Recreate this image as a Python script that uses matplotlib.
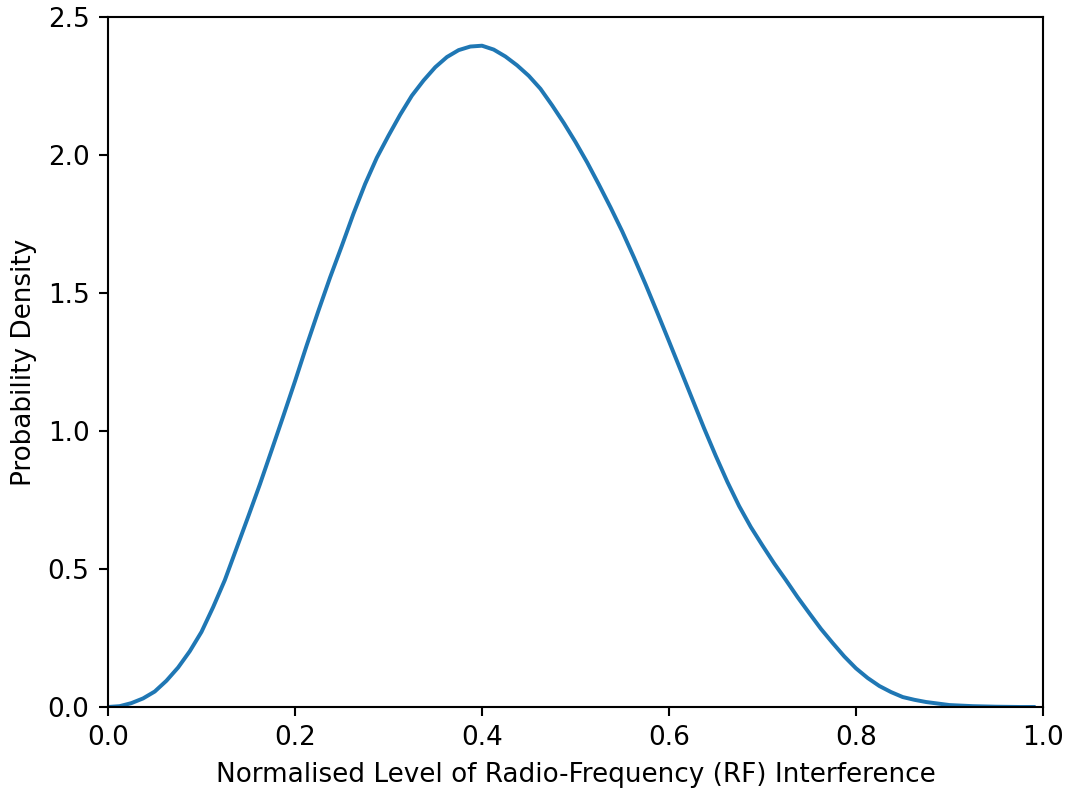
import matplotlib
matplotlib.use("Agg")
import matplotlib.pyplot as plt

# Values
rf_level = [0.000, 0.0125, 0.025, 0.0375, 0.050, 0.0625, 0.075, 0.0875, 0.100, 0.1125,
            0.125, 0.1375, 0.150, 0.1625, 0.175, 0.1875, 0.200, 0.2125, 0.225, 0.2375,
            0.250, 0.2625, 0.275, 0.2875, 0.300, 0.3125, 0.325, 0.3375, 0.350, 0.3625,
            0.375, 0.3875, 0.400, 0.4125, 0.425, 0.4375, 0.450, 0.4625, 0.475, 0.4875,
            0.500, 0.5125, 0.525, 0.5375, 0.550, 0.5625, 0.575, 0.5875, 0.600, 0.6125,
            0.625, 0.6375, 0.650, 0.6625, 0.675, 0.6875, 0.700, 0.7125, 0.725, 0.7375,
            0.750, 0.7625, 0.775, 0.7875, 0.800, 0.8125, 0.825, 0.8375, 0.850, 0.8625,
            0.875, 0.900, 0.925, 0.950, 0.975, 0.990]
density = [0.000, 0.003, 0.014, 0.031, 0.056, 0.095, 0.143, 0.202, 0.272, 0.362,
           0.460, 0.575, 0.690, 0.807, 0.930, 1.054, 1.180, 1.310, 1.435, 1.556,
           1.670, 1.787, 1.895, 1.990, 2.070, 2.146, 2.215, 2.270, 2.318, 2.355,
           2.380, 2.393, 2.396, 2.382, 2.357, 2.325, 2.287, 2.240, 2.180, 2.116,
           2.047, 1.973, 1.893, 1.810, 1.723, 1.629, 1.531, 1.429, 1.325, 1.220,
           1.115, 1.010, 0.910, 0.815, 0.728, 0.652, 0.585, 0.520, 0.460, 0.398,
           0.340, 0.283, 0.232, 0.183, 0.140, 0.105, 0.076, 0.054, 0.036, 0.026,
           0.018, 0.007, 0.003, 0.001, 0.000, 0.000]

x_ticks = [0.0, 0.2, 0.4, 0.6, 0.8, 1.0]
y_ticks = [0.0, 0.5, 1.0, 1.5, 2.0, 2.5]

DPI = 189
fig = plt.figure(figsize=(1069 / DPI, 791 / DPI), dpi=DPI)
ax = fig.add_axes([0.101, 0.1062, 0.8747, 0.8723])
ax.plot(rf_level, density, color="#1f77b4", linewidth=1.5)
ax.set_xlim(0, 1)
ax.set_ylim(0, 2.5)
ax.set_xticks(x_ticks)
ax.set_yticks(y_ticks)
ax.set_xticklabels([f"{t:.1f}" for t in x_ticks])
ax.set_yticklabels([f"{t:.1f}" for t in y_ticks])
ax.tick_params(labelsize=10)
ax.set_xlabel("Normalised Level of Radio-Frequency (RF) Interference", fontsize=10)
ax.set_ylabel("Probability Density", fontsize=10)
fig.savefig("out.png", dpi=DPI)
